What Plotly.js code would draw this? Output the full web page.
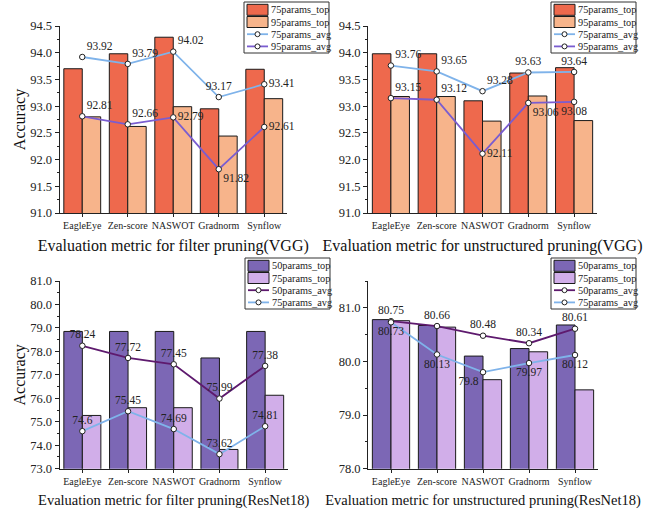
<!DOCTYPE html>
<html><head><meta charset="utf-8">
<script src="https://cdn.plot.ly/plotly-3.0.1.min.js"></script>
<style>html,body{margin:0;padding:0;background:#fff}#chart{width:663px;height:512px}</style>
</head><body><div id="chart"></div>
<script>
const categories = ["EagleEye", "Zen-score", "NASWOT", "Gradnorm", "Synflow"];

// Panel 1: filter pruning (VGG)
const p1_75top = [93.70, 93.98, 94.29, 92.95, 93.69];
const p1_95top = [92.80, 92.62, 92.99, 92.44, 93.14];
const p1_75avg = [93.92, 93.79, 94.02, 93.17, 93.41];
const p1_95avg = [92.81, 92.66, 92.79, 91.82, 92.61];

// Panel 2: unstructured pruning (VGG)
const p2_75top = [93.98, 93.98, 93.10, 93.62, 93.72];
const p2_95top = [93.18, 93.18, 92.72, 93.19, 92.73];
const p2_75avg = [93.76, 93.65, 93.28, 93.63, 93.64];
const p2_95avg = [93.15, 93.12, 92.11, 93.06, 93.08];

// Panel 3: filter pruning (ResNet18)
const p3_50top = [78.85, 78.85, 78.85, 77.72, 78.85];
const p3_75top = [75.27, 75.60, 75.60, 73.82, 76.13];
const p3_50avg = [78.24, 77.72, 77.45, 75.99, 77.38];
const p3_75avg = [74.6, 75.45, 74.69, 73.62, 74.81];

// Panel 4: unstructured pruning (ResNet18)
const p4_50top = [80.78, 80.67, 80.10, 80.24, 80.68];
const p4_75top = [80.76, 80.64, 79.66, 80.18, 79.47];
const p4_50avg = [80.75, 80.66, 80.48, 80.34, 80.61];
const p4_75avg = [80.73, 80.13, 79.8, 79.97, 80.12];

const C_RED = "#EE694D", C_SALMON = "#F7B48B";
const C_DPURP = "#7C67B5", C_LILAC = "#D1AEE9";
const C_LBLUE = "#7FB3EA", C_PURP = "#7A5DD0", C_PLUM = "#5E1A6E";
const FONT = "Liberation Serif, Times New Roman, serif";

function bar(name, y, color, xa, ya) {
  return {type: "bar", name: name, x: categories, y: y, xaxis: xa, yaxis: ya, showlegend: false,
    marker: {color: color, line: {color: "#1a1a1a", width: 1}}};
}
function line(name, y, color, xa, ya, pos) {
  return {type: "scatter", mode: "lines+markers+text", name: name, x: categories, y: y,
    xaxis: xa, yaxis: ya, showlegend: false, text: y.map(v => String(v)), textposition: pos,
    textfont: {family: FONT, size: 11.5, color: "#222"}, cliponaxis: false,
    line: {color: color, width: 1.8},
    marker: {symbol: "circle", size: 5.5, color: "#fff", line: {color: "#222", width: 1}}};
}

const data = [
  bar("75params_top", p1_75top, C_RED, "x", "y"),
  bar("95params_top", p1_95top, C_SALMON, "x", "y"),
  line("75params_avg", p1_75avg, C_LBLUE, "x", "y",
    ["top right", "top right", "top right", "top center", "middle right"]),
  line("95params_avg", p1_95avg, C_PURP, "x", "y",
    ["top right", "top right", "middle right", "bottom right", "middle right"]),

  bar("75params_top", p2_75top, C_RED, "x2", "y2"),
  bar("95params_top", p2_95top, C_SALMON, "x2", "y2"),
  line("75params_avg", p2_75avg, C_LBLUE, "x2", "y2",
    ["top right", "top right", "top right", "top center", "top center"]),
  line("95params_avg", p2_95avg, C_PURP, "x2", "y2",
    ["top right", "top right", "middle right", "bottom right", "bottom center"]),

  bar("50params_top", p3_50top, C_DPURP, "x3", "y3"),
  bar("75params_top", p3_75top, C_LILAC, "x3", "y3"),
  line("50params_avg", p3_50avg, C_PLUM, "x3", "y3",
    ["top center", "top center", "top center", "top center", "top center"]),
  line("75params_avg", p3_75avg, C_LBLUE, "x3", "y3",
    ["top center", "top center", "top center", "top center", "top center"]),

  bar("50params_top", p4_50top, C_DPURP, "x4", "y4"),
  bar("75params_top", p4_75top, C_LILAC, "x4", "y4"),
  line("50params_avg", p4_50avg, C_PLUM, "x4", "y4",
    ["top center", "top center", "top center", "top center", "top center"]),
  line("75params_avg", p4_75avg, C_LBLUE, "x4", "y4",
    ["bottom center", "bottom center", "bottom left", "bottom center", "bottom center"])
];

const W = 663, H = 512;
const px = v => v / W, py = v => 1 - v / H;

function xax(d0, d1, anchor, title, tsize) {
  return {domain: [px(d0), px(d1)], anchor: anchor, type: "category",
    showline: true, linecolor: "#222", linewidth: 1, ticks: "outside", ticklen: 3, tickcolor: "#222",
    showgrid: false, zeroline: false, tickfont: {family: FONT, size: 10, color: "#222"},
    title: {text: title, font: {family: FONT, size: tsize, color: "#111"}, standoff: 9}};
}
function yax(top, bot, anchor, range, dtick, minor, showTitle) {
  return {domain: [py(bot), py(top)], anchor: anchor, range: range, dtick: dtick, tick0: range[0],
    tickformat: ".1f", showline: true, linecolor: "#222", linewidth: 1, ticks: "outside",
    ticklen: 4, tickcolor: "#222", showgrid: false, zeroline: false,
    minor: {dtick: minor, ticks: "outside", ticklen: 2, tickcolor: "#222"},
    tickfont: {family: FONT, size: 12.5, color: "#222"},
    title: showTitle ? {text: "Accuracy", font: {family: FONT, size: 16, color: "#111"}, standoff: 0} : {text: ""}};
}

// Hand-built legend boxes (compact like the original)
const shapes = [], annotations = [];
function legendBox(L, T, names, kinds, colors) {
  const BW = 85, BH = 51;
  shapes.push({type: "rect", xref: "paper", yref: "paper", layer: "above",
    x0: px(L), x1: px(L + BW), y0: py(T + BH), y1: py(T),
    fillcolor: "#fff", line: {color: "#333", width: 1}});
  names.forEach((nm, r) => {
    const c = T + 7.8 + r * 12.2;
    if (kinds[r] === "bar") {
      shapes.push({type: "rect", xref: "paper", yref: "paper", layer: "above",
        x0: px(L + 3), x1: px(L + 24), y0: py(c + 5.5), y1: py(c - 5.5),
        fillcolor: colors[r], line: {color: "#1a1a1a", width: 1}});
    } else {
      shapes.push({type: "line", xref: "paper", yref: "paper", layer: "above",
        x0: px(L + 3), x1: px(L + 24), y0: py(c), y1: py(c), line: {color: colors[r], width: 1.8}});
      shapes.push({type: "circle", xref: "paper", yref: "paper", layer: "above",
        x0: px(L + 11), x1: px(L + 16), y0: py(c + 2.5), y1: py(c - 2.5),
        fillcolor: "#fff", line: {color: "#222", width: 1}});
    }
    annotations.push({xref: "paper", yref: "paper", x: px(L + 24.5), y: py(c), xanchor: "left",
      yanchor: "middle", showarrow: false, text: nm, font: {family: FONT, size: 10.3, color: "#222"}});
  });
}
const K = ["bar", "bar", "line", "line"];
legendBox(244, 2, ["75params_top", "95params_top", "75params_avg", "95params_avg"], K,
  [C_RED, C_SALMON, C_LBLUE, C_PURP]);
legendBox(551, 2, ["75params_top", "95params_top", "75params_avg", "95params_avg"], K,
  [C_RED, C_SALMON, C_LBLUE, C_PURP]);
legendBox(245, 258, ["50params_top", "75params_top", "50params_avg", "75params_avg"], K,
  [C_DPURP, C_LILAC, C_PLUM, C_LBLUE]);
legendBox(551, 258, ["50params_top", "75params_top", "50params_avg", "75params_avg"], K,
  [C_DPURP, C_LILAC, C_PLUM, C_LBLUE]);

const layout = {
  width: W, height: H, margin: {l: 0, r: 0, t: 0, b: 0}, paper_bgcolor: "#fff", plot_bgcolor: "#fff",
  barmode: "group", bargap: 0.19, bargroupgap: 0, showlegend: false,
  xaxis: xax(59.5, 287, "y", "Evaluation metric for filter pruning(VGG)", 16),
  yaxis: yax(26, 213, "x", [91, 94.5], 0.5, 0.25, true),
  xaxis2: xax(368, 597, "y2", "Evaluation metric for unstructured pruning(VGG)", 16),
  yaxis2: yax(26, 213, "x2", [91, 94.5], 0.5, 0.25, false),
  xaxis3: xax(59.5, 288, "y3", "Evaluation metric for filter pruning(ResNet18)", 14.5),
  yaxis3: yax(281, 468.7, "x3", [73, 81], 1, 0.5, true),
  xaxis4: xax(368, 598, "y4", "Evaluation metric for unstructured pruning(ResNet18)", 14.5),
  yaxis4: yax(281, 468.7, "x4", [78, 81.5], 1, 0.5, false),
  shapes: shapes, annotations: annotations
};

Plotly.newPlot("chart", data, layout, {displayModeBar: false, staticPlot: true});
</script></body></html>
